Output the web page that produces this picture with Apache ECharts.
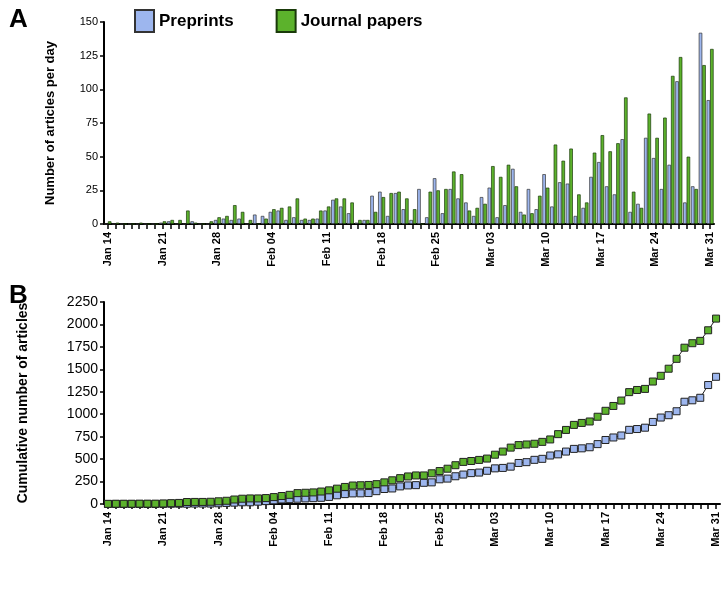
<!DOCTYPE html>
<html><head><meta charset="utf-8">
<script src="https://cdn.jsdelivr.net/npm/echarts@6/dist/echarts.min.js"></script>
<style>html,body{margin:0;padding:0;background:#fff}#c{width:725px;height:595px}</style>
</head><body><div id="c"></div>
<script>
// Days Jan 14 - Mar 31 (2020)
const months = [["Jan", 14, 31], ["Feb", 1, 29], ["Mar", 1, 31]];
const categories = [];
months.forEach(([m, a, b]) => { for (let d = a; d <= b; d++) categories.push(m + " " + String(d).padStart(2, "0")); });

const preprintsDaily = [0,0,0,0,0,0,0,1,2,0,0,2,0,0,3,4,3,4,0,
  7,6,9,10,3,5,3,3,4,10,18,13,8,1,3,21,24,6,23,
  11,3,26,5,34,8,26,19,16,6,20,27,5,14,41,9,26,11,37,13,31,30,6,12,35,46,28,22,63,9,15,64,49,26,44,106,16,28,142,92];
const journalDaily = [2,1,0,0,1,0,0,2,3,3,10,1,0,2,5,6,14,9,3,
  0,4,11,12,13,19,4,4,10,13,19,19,16,3,3,9,20,23,24,
  19,11,0,24,25,26,39,37,10,12,15,43,35,44,28,7,8,21,27,59,47,56,22,16,53,66,54,60,94,24,12,82,64,79,110,124,50,26,118,130];
const yTicksA = [0, 150, 25];
const yTicksB = [0, 2250, 250];

function cumulative(a) { let s = 0; return a.map(v => (s += v)); }
const preprintsCum = cumulative(preprintsDaily);
const journalCum = cumulative(journalDaily);

const BLUE = "#9db6ee", GREEN = "#5cb22c", FONT = "Liberation Sans";
const chart = echarts.init(document.getElementById("c"), null, { renderer: "canvas" });

const xAxisBase = (gridIndex) => ({
  type: "category", gridIndex, data: categories, boundaryGap: true,
  axisLine: { lineStyle: { color: "#000", width: 2 } },
  axisTick: { show: true, alignWithLabel: true, interval: 0, length: 5, lineStyle: { color: "#000", width: 1.5 } },
  axisLabel: { interval: 6, rotate: 90, color: "#000", fontFamily: FONT, fontWeight: "bold", fontSize: 11, margin: 8 }
});
const yAxisBase = (gridIndex, t, name, nameGap, labelSize, nameSize) => ({
  type: "value", gridIndex, min: t[0], max: t[1], interval: t[2],
  name, nameLocation: "middle", nameGap,
  nameTextStyle: { color: "#000", fontFamily: FONT, fontWeight: "bold", fontSize: nameSize },
  splitLine: { show: false },
  axisLine: { show: true, lineStyle: { color: "#000", width: 2 } },
  axisTick: { show: true, length: 4, lineStyle: { color: "#000", width: 1.5 } },
  axisLabel: { color: "#000", fontFamily: FONT, fontSize: labelSize, margin: 6, formatter: v => String(v) }
});

chart.setOption({
  animation: false,
  title: [
    { text: "A", left: 4, top: 2, textStyle: { fontFamily: FONT, fontWeight: "bold", fontSize: 26, color: "#000" } },
    { text: "B", left: 4, top: 278, textStyle: { fontFamily: FONT, fontWeight: "bold", fontSize: 26, color: "#000" } }
  ],
  legend: {
    data: ["Preprints", "Journal papers"], left: 129, top: 4, itemWidth: 19, itemHeight: 22, itemGap: 42,
    icon: "rect",
    textStyle: { fontFamily: FONT, fontWeight: "bold", fontSize: 17, color: "#000" }
  },
  grid: [
    { left: 104, right: 11, top: 22, bottom: 371, containLabel: false },
    { left: 104, right: 5, top: 302, bottom: 91, containLabel: false }
  ],
  xAxis: [xAxisBase(0), xAxisBase(1)],
  yAxis: [
    yAxisBase(0, yTicksA, "Number of articles per day", 47, 11, 13),
    yAxisBase(1, yTicksB, "Cumulative number of articles", 74, 14, 14)
  ],
  series: [
    { name: "Preprints", type: "bar", xAxisIndex: 0, yAxisIndex: 0, data: preprintsDaily,
      barGap: "0%", barCategoryGap: "10%",
      itemStyle: { color: BLUE, borderColor: "#333", borderWidth: 0.7 } },
    { name: "Journal papers", type: "bar", xAxisIndex: 0, yAxisIndex: 0, data: journalDaily,
      barGap: "0%", barCategoryGap: "10%",
      itemStyle: { color: GREEN, borderColor: "#1a3a0a", borderWidth: 0.7 } },
    { name: "Preprints", type: "line", xAxisIndex: 1, yAxisIndex: 1, data: preprintsCum,
      symbol: "rect", symbolSize: 7, showSymbol: true, showAllSymbol: true,
      lineStyle: { color: "#222", width: 1 },
      itemStyle: { color: BLUE, borderColor: "#222", borderWidth: 1 } },
    { name: "Journal papers", type: "line", xAxisIndex: 1, yAxisIndex: 1, data: journalCum,
      symbol: "rect", symbolSize: 7, showSymbol: true, showAllSymbol: true,
      lineStyle: { color: "#222", width: 1 },
      itemStyle: { color: GREEN, borderColor: "#222", borderWidth: 1 } }
  ]
});
</script></body></html>
